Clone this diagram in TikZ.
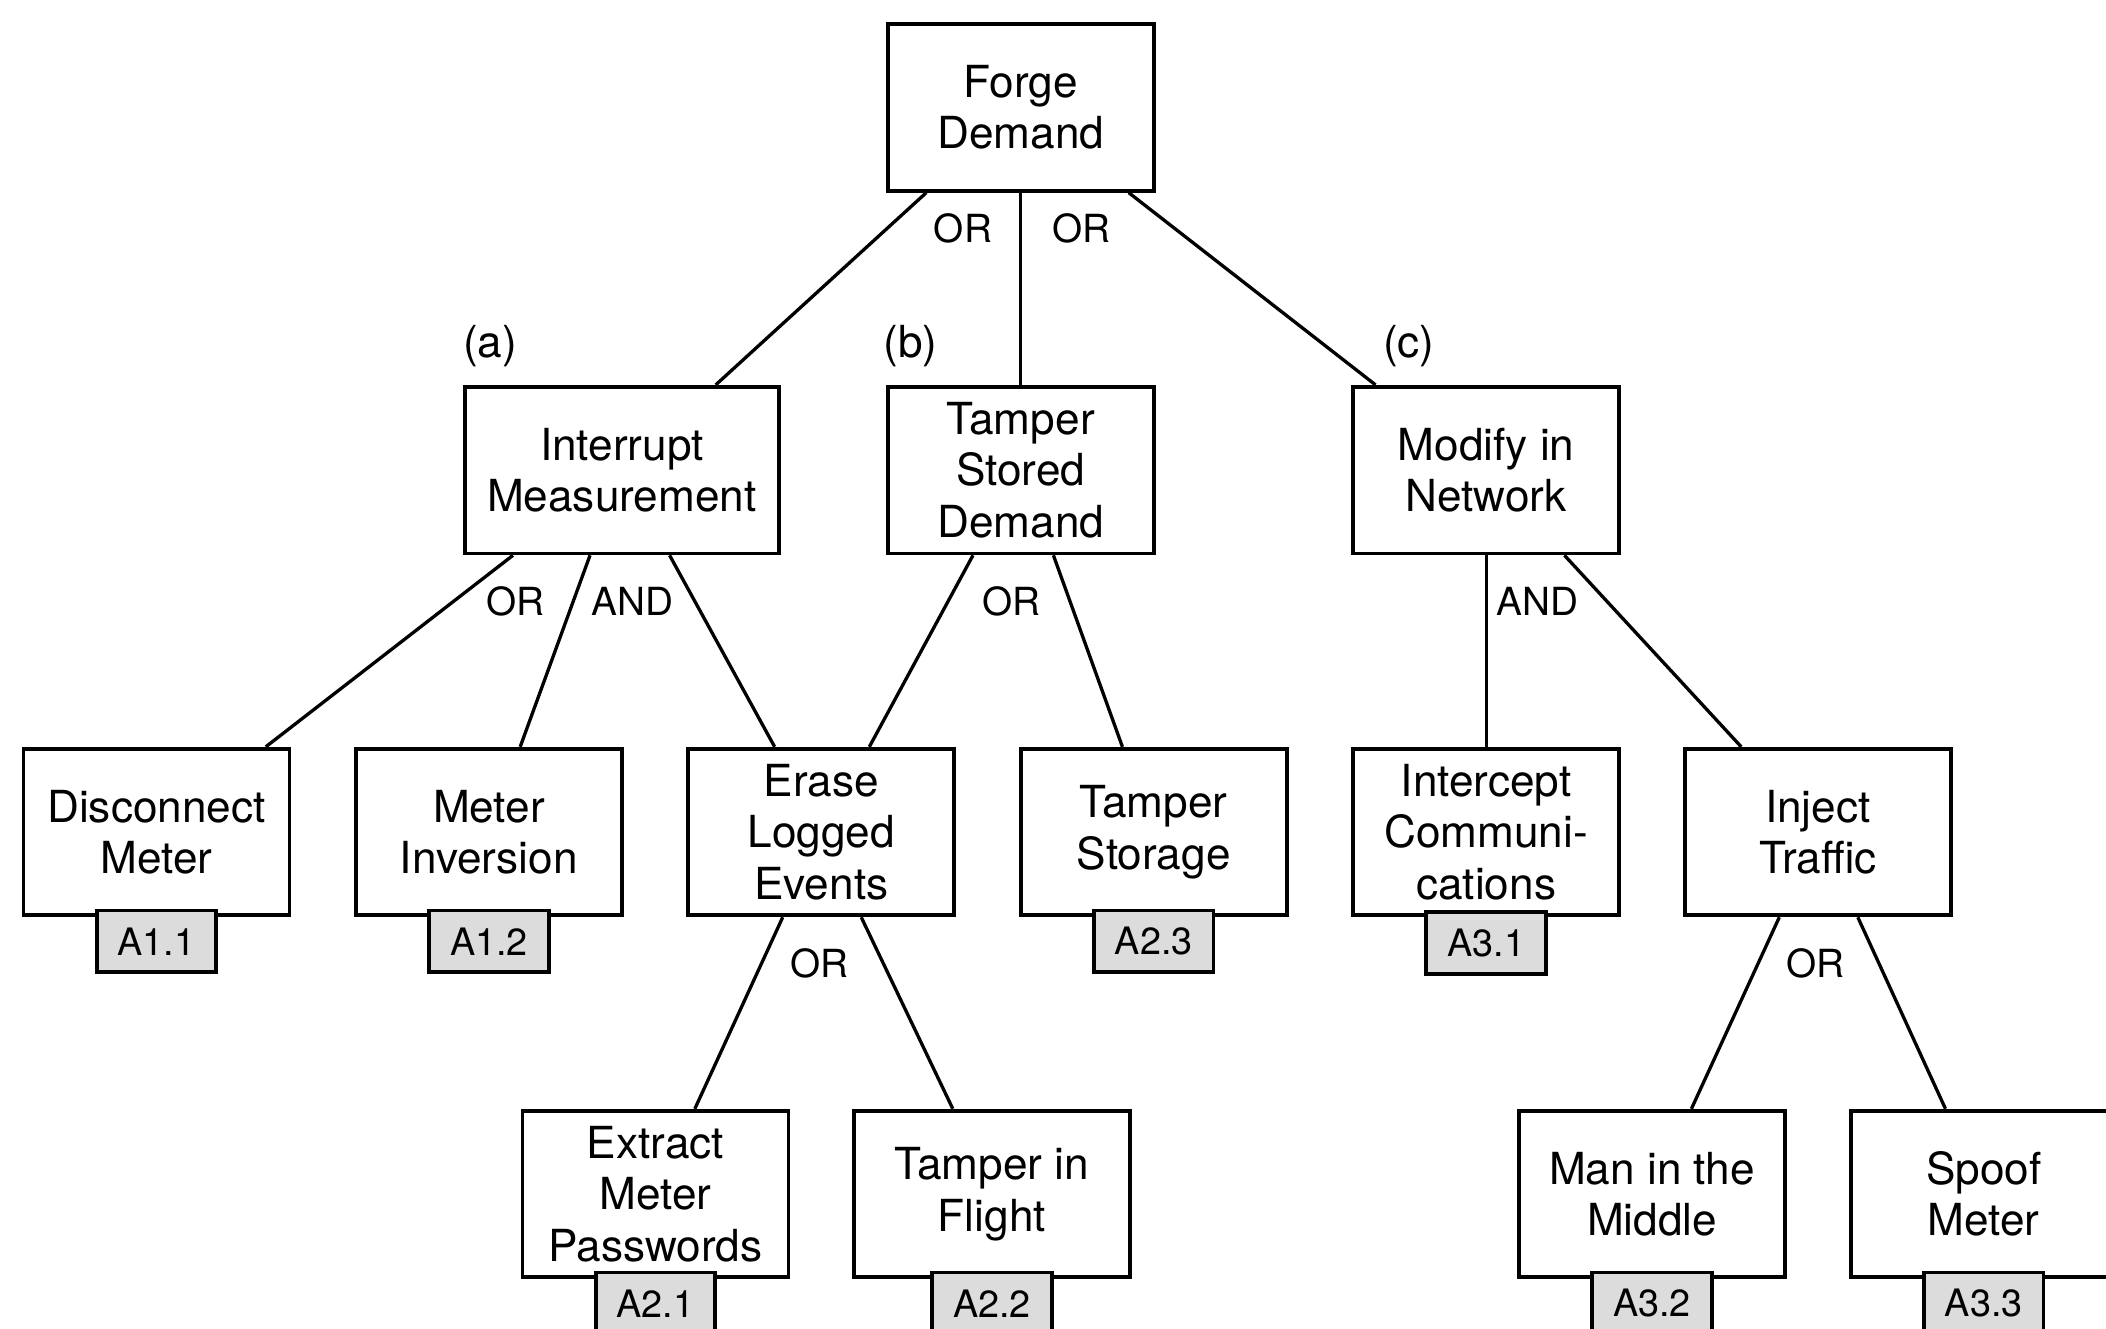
\documentclass[tikz,border=0pt]{standalone}
\usepackage{fontspec}
\setmainfont{TeX Gyre Heros}
\usetikzlibrary{calc}

\tikzset{
  stepbox/.style={draw, line width=0.8pt, fill=white, align=center, inner sep=0pt,
    minimum width=1.98cm, minimum height=1.24cm,
    font=\fontsize{9.35}{10.9}\selectfont},
  tagbox/.style={draw, line width=0.8pt, fill=tagfill, inner sep=0pt,
    minimum width=0.89cm, minimum height=0.46cm,
    font=\fontsize{8}{9.6}\selectfont},
  link/.style={line width=0.7pt},
  gate/.style={inner sep=0pt, font=\fontsize{8.2}{9.6}\selectfont},
  sub/.style={inner sep=0pt, font=\fontsize{9.35}{10.9}\selectfont},
}
\definecolor{tagfill}{HTML}{DCDCDC}

% point at fraction t along the lower / upper edge of a box
\newcommand{\lowedge}[2]{($(#1.south west)!#2!(#1.south east)$)}
\newcommand{\topedge}[2]{($(#1.north west)!#2!(#1.north east)$)}

\begin{document}
\begin{tikzpicture}[x=0.01cm, y=-0.01cm]
\clip (0,0) rectangle (1568,989);
\useasboundingbox (0,0) rectangle (1568,989);

% goal and first-level refinements
\node[stepbox] (fd) at (760,80) {Forge\\Demand};
\node[stepbox, minimum width=2.34cm] (im) at (463,350) {Interrupt\\Measurement};
\node[stepbox] (tsd) at (760,350) {Tamper\\Stored\\Demand};
\node[stepbox] (mn) at (1106.5,350) {Modify in\\Network};

% second level
\node[stepbox] (dm) at (116.5,619.5) {Disconnect\\Meter};
\node[stepbox] (mi) at (364,619.5) {Meter\\Inversion};
\node[stepbox] (ele) at (611.5,619.5) {Erase\\Logged\\Events};
\node[stepbox] (ts) at (859,619.5) {Tamper\\Storage};
\node[stepbox] (ic) at (1106.5,619.5) {Intercept\\Communi-\\cations};
\node[stepbox] (it) at (1353.5,619.5) {Inject\\Traffic};

% third level
\node[stepbox] (emp) at (488,889) {Extract\\Meter\\Passwords};
\node[stepbox, minimum width=2.05cm] (tif) at (738.5,889) {Tamper in\\Flight};
\node[stepbox] (mitm) at (1230,889) {Man in the\\Middle};
\node[stepbox] (sm) at (1477,889) {Spoof\\Meter};

% attack identifiers
\node[tagbox] (t11) at ($(dm.south)+(0,18)$) {A1.1};
\node[tagbox] (t12) at ($(mi.south)+(0,18)$) {A1.2};
\node[tagbox] (t23) at ($(ts.south)+(0,18)$) {A2.3};
\node[tagbox] (t31) at ($(ic.south)+(0,19)$) {A3.1};
\node[tagbox] (t21) at ($(emp.south)+(0,18)$) {A2.1};
\node[tagbox] (t22) at ($(tif.south)+(0,18)$) {A2.2};
\node[tagbox] (t32) at ($(mitm.south)+(0,18)$) {A3.2};
\node[tagbox] (t33) at ($(sm.south)+(0,18)$) {A3.3};

% connectors
\draw[link] \lowedge{fd}{0.15} -- \topedge{im}{0.795};
\draw[link] (fd.south) -- (tsd.north);
\draw[link] \lowedge{fd}{0.90} -- \topedge{mn}{0.09};

\draw[link] \lowedge{im}{0.158} -- \topedge{dm}{0.905};
\draw[link] \lowedge{im}{0.40} -- \topedge{mi}{0.616};
\draw[link] \lowedge{im}{0.65} -- \topedge{ele}{0.327};

\draw[link] \lowedge{tsd}{0.323} -- \topedge{ele}{0.678};
\draw[link] \lowedge{tsd}{0.621} -- \topedge{ts}{0.384};

\draw[link] (mn.south) -- (ic.north);
\draw[link] \lowedge{mn}{0.79} -- \topedge{it}{0.216};

\draw[link] \lowedge{ele}{0.357} -- \topedge{emp}{0.646};
\draw[link] \lowedge{ele}{0.648} -- \topedge{tif}{0.36};

\draw[link] \lowedge{it}{0.357} -- \topedge{mitm}{0.646};
\draw[link] \lowedge{it}{0.648} -- \topedge{sm}{0.358};

% gate labels
\node[gate] (g1) at (717,170) {OR};
\node[gate] (g2) at (805,170) {OR};
\node[gate] (g3) at (384,448) {OR};
\node[gate] (g4) at (471,448) {AND};
\node[gate] (g5) at (753,448) {OR};
\node[gate] (g6) at (1145,448) {AND};
\node[gate] (g7) at (610,717) {OR};
\node[gate] (g8) at (1352,717) {OR};

% sub-tree markers
\node[sub] (la) at (365,258) {(a)};
\node[sub] (lb) at (678,258) {(b)};
\node[sub] (lc) at (1049,258) {(c)};
\end{tikzpicture}
\end{document}
